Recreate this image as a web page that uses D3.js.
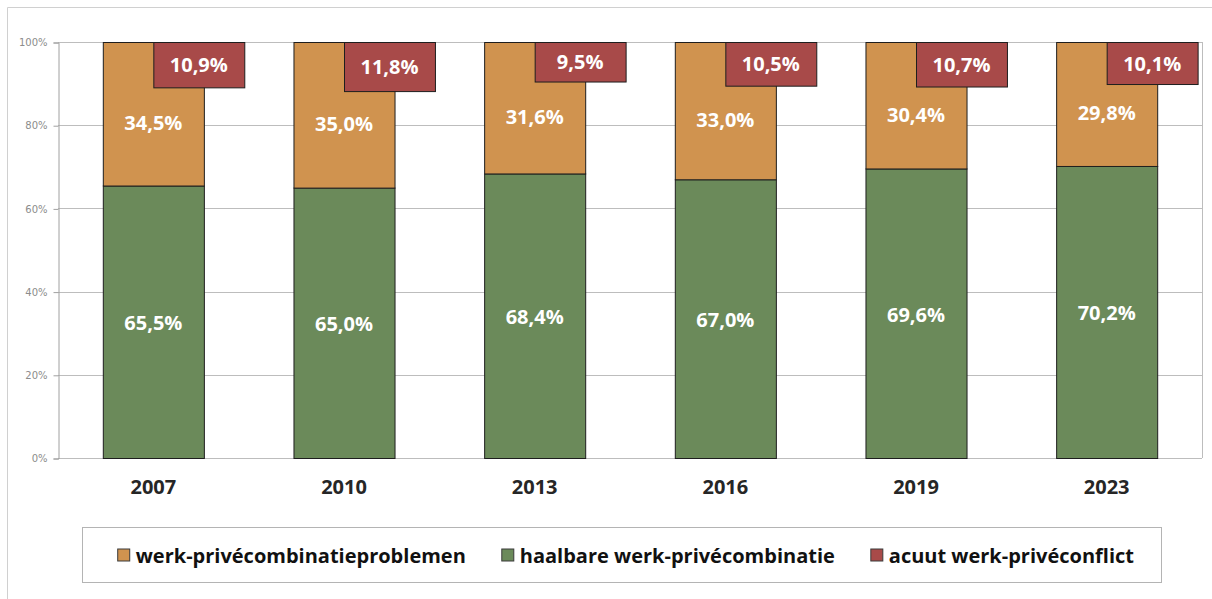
<!DOCTYPE html>
<html>
<head>
<meta charset="utf-8">
<script src="https://cdn.jsdelivr.net/npm/d3@7"></script>
<style>
  body { margin: 0; background: #fff; }
  svg { display: block; font-family: "Open Sans", sans-serif; }
</style>
</head>
<body>
<div id="chart"></div>
<script>
const years = ['2007', '2010', '2013', '2016', '2019', '2023'];
const haalbaar = [65.5, 65.0, 68.4, 67.0, 69.6, 70.2];
const problemen = [34.5, 35.0, 31.6, 33.0, 30.4, 29.8];
const acuut = [10.9, 11.8, 9.5, 10.5, 10.7, 10.1];
const yTicks = [0, 20, 40, 60, 80, 100];
const legendLabels = ['werk-privécombinatieproblemen', 'haalbare werk-privécombinatie', 'acuut werk-privéconflict'];

const colors = { orange: '#d0934f', green: '#6b8a5a', red: '#a84a49' };
const fmt = v => v.toFixed(1).replace('.', ',') + '%';

const width = 1212, height = 599;
const plotLeft = 58, plotRight = 1202, plotTop = 42, plotBottom = 458;

const svg = d3.select('#chart').append('svg')
    .attr('width', width)
    .attr('height', height);

// outer frame (only top + left visible)
svg.append('path')
    .attr('d', `M7.5,${height} V7.5 H${width}`)
    .attr('fill', 'none')
    .attr('stroke', '#d0d0d0');

const x = d3.scaleBand()
    .domain(years)
    .range([plotLeft, plotRight])
    .paddingInner(0.47)
    .paddingOuter(0.235);

const y = d3.scaleLinear()
    .domain([0, 100])
    .range([plotBottom, plotTop]);

// gridlines
svg.append('g')
    .selectAll('line')
    .data(yTicks)
    .enter()
    .append('line')
    .attr('x1', plotLeft)
    .attr('x2', plotRight)
    .attr('y1', d => Math.round(y(d)) + 0.5)
    .attr('y2', d => Math.round(y(d)) + 0.5)
    .attr('stroke', '#bdbdbd');

// y axis
const yAxis = svg.append('g')
    .attr('transform', `translate(${plotLeft + 0.5},0.5)`)
    .call(d3.axisLeft(y).tickValues(yTicks).tickSize(5).tickPadding(6).tickFormat(d => d + '%'));
yAxis.select('.domain').attr('stroke', '#a0a0a0');
yAxis.selectAll('.tick line').attr('stroke', '#a0a0a0');
yAxis.selectAll('text')
    .attr('fill', '#8c8c8c')
    .style('font-size', '10px')
    .style('font-family', '"DejaVu Sans", sans-serif');

// right border of plot
svg.append('line')
    .attr('x1', plotRight + 0.5).attr('x2', plotRight + 0.5)
    .attr('y1', plotTop).attr('y2', plotBottom)
    .attr('stroke', '#bdbdbd');

// x axis labels
const xAxis = svg.append('g')
    .attr('transform', `translate(0,${plotBottom})`)
    .call(d3.axisBottom(x).tickSize(0).tickPadding(22));
xAxis.select('.domain').remove();
xAxis.selectAll('text')
    .attr('fill', '#262626')
    .style('font-size', '20px')
    .style('font-weight', 'bold')
    .style('font-family', '"Open Sans", sans-serif');

const rows = years.map((yr, i) => ({
    year: yr, haalbaar: haalbaar[i], problemen: problemen[i], acuut: acuut[i]
}));

const bars = svg.append('g');

// green segment
bars.selectAll('.green')
    .data(rows)
    .enter()
    .append('rect')
    .attr('class', 'green')
    .attr('x', d => x(d.year) + 0.5)
    .attr('width', x.bandwidth())
    .attr('y', d => y(d.haalbaar) + 0.5)
    .attr('height', d => y(0) - y(d.haalbaar))
    .attr('fill', colors.green)
    .attr('stroke', '#1e1e1e');

// orange segment
bars.selectAll('.orange')
    .data(rows)
    .enter()
    .append('rect')
    .attr('class', 'orange')
    .attr('x', d => x(d.year) + 0.5)
    .attr('width', x.bandwidth())
    .attr('y', d => y(d.haalbaar + d.problemen) + 0.5)
    .attr('height', d => y(d.haalbaar) - y(d.haalbaar + d.problemen))
    .attr('fill', colors.orange)
    .attr('stroke', '#1e1e1e');

// red box (acuut), overlapping top right
const redW = x.bandwidth() * 0.9;
bars.selectAll('.red')
    .data(rows)
    .enter()
    .append('rect')
    .attr('class', 'red')
    .attr('x', d => x(d.year) + x.bandwidth() / 2 + 0.5)
    .attr('width', redW)
    .attr('y', y(100) + 0.5)
    .attr('height', d => y(100 - d.acuut) - y(100))
    .attr('fill', colors.red)
    .attr('stroke', '#1e1e1e');

const labelStyle = sel => sel
    .attr('text-anchor', 'middle')
    .attr('dominant-baseline', 'central')
    .attr('fill', '#fff')
    .style('font-size', '20px')
    .style('font-weight', 'bold');

bars.selectAll('.lg')
    .data(rows)
    .enter()
    .append('text')
    .attr('x', d => x(d.year) + x.bandwidth() / 2)
    .attr('y', d => y(d.haalbaar / 2) + 1)
    .text(d => fmt(d.haalbaar))
    .call(labelStyle);

bars.selectAll('.lo')
    .data(rows)
    .enter()
    .append('text')
    .attr('x', d => x(d.year) + x.bandwidth() / 2)
    .attr('y', d => y(d.haalbaar + d.problemen / 2) + 9)
    .text(d => fmt(d.problemen))
    .call(labelStyle);

bars.selectAll('.lr')
    .data(rows)
    .enter()
    .append('text')
    .attr('x', d => x(d.year) + x.bandwidth() / 2 + redW / 2)
    .attr('y', d => y(100 - d.acuut / 2))
    .text(d => fmt(d.acuut))
    .call(labelStyle);

// legend
const legendBox = { x: 82, y: 527, w: 1079, h: 55 };
svg.append('rect')
    .attr('x', legendBox.x + 0.5)
    .attr('y', legendBox.y + 0.5)
    .attr('width', legendBox.w)
    .attr('height', legendBox.h)
    .attr('fill', '#fff')
    .attr('stroke', '#b4b4b4');

const legendColors = [colors.orange, colors.green, colors.red];
const legend = svg.append('g');
const items = legend.selectAll('.legend')
    .data(legendLabels)
    .enter()
    .append('g')
    .attr('class', 'legend');

items.append('rect')
    .attr('width', 12)
    .attr('height', 12)
    .attr('y', -6)
    .attr('fill', (d, i) => legendColors[i])
    .attr('stroke', '#3a3a3a');

items.append('text')
    .attr('x', 18)
    .attr('dominant-baseline', 'central')
    .attr('fill', '#111')
    .style('font-size', '20px')
    .style('font-weight', 'bold')
    .text(d => d);

const gap = 36;
const widths = [];
items.each(function () { widths.push(this.getBBox().width); });
const total = d3.sum(widths) + gap * (widths.length - 1);
let cx = legendBox.x + (legendBox.w - total) / 2 + 4;
items.attr('transform', (d, i) => {
    const t = `translate(${cx + 0.5},${legendBox.y + legendBox.h / 2 + 0.5})`;
    cx += widths[i] + gap;
    return t;
});
</script>
</body>
</html>
